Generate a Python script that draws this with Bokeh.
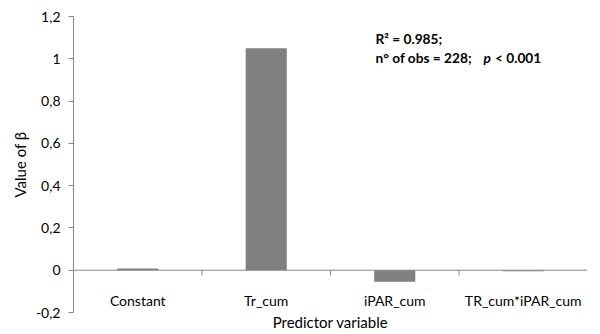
from bokeh.plotting import figure
from bokeh.models import Range1d, FixedTicker, Span, Label
from bokeh.embed import file_html
from bokeh.resources import INLINE

categories = ["Constant", "Tr_cum", "iPAR_cum", "TR_cum*iPAR_cum"]
beta = [0.008, 1.05, -0.055, -0.005]
y_ticks = [-0.2, 0, 0.2, 0.4, 0.6, 0.8, 1, 1.2]
y_tick_labels = ["-0,2", "0", "0,2", "0,4", "0,6", "0,8", "1", "1,2"]
note_line1 = "R² = 0.985;"
note_line2a = "n° of obs = 228;"
note_line2b = "p"
note_line2c = "< 0.001"

FONT = "Lato"
AX = "#868686"
TXT = "#000000"

n = len(categories)
xs = [i + 0.5 for i in range(n)]
bounds = list(range(1, n))

p = figure(width=600, height=334, output_backend="svg", toolbar_location=None,
           x_range=Range1d(0, n), y_range=Range1d(-0.2, 1.2),
           min_border_left=73, min_border_right=13, min_border_top=16, min_border_bottom=22)
p.outline_line_color = None
p.grid.grid_line_color = None
p.background_fill_color = "white"

p.vbar(x=xs, top=beta, bottom=0, width=0.32, color="#808080", line_color=None)

p.add_layout(Span(location=0, dimension="width", line_color=AX, line_width=1))
p.segment(x0=bounds, x1=bounds, y0=[0]*len(bounds), y1=[-0.025]*len(bounds), line_color=AX, line_width=1)

ya = p.yaxis[0]
ya.ticker = FixedTicker(ticks=y_ticks)
ya.major_label_overrides = {t: l for t, l in zip(y_ticks, y_tick_labels)}
ya.minor_tick_line_color = None
ya.major_tick_in = 0
ya.major_tick_out = 5
ya.axis_line_color = AX
ya.major_tick_line_color = AX
ya.major_label_standoff = 8
ya.major_label_text_font = FONT
ya.major_label_text_font_size = "14px"
ya.major_label_text_color = TXT
ya.axis_label = "Value of β"
ya.axis_label_text_font = FONT
ya.axis_label_text_font_size = "15px"
ya.axis_label_text_font_style = "normal"
ya.axis_label_text_color = TXT
ya.axis_label_standoff = 4

xa = p.xaxis[0]
xa.ticker = FixedTicker(ticks=xs)
xa.major_label_overrides = {x: c for x, c in zip(xs, categories)}
xa.axis_line_color = None
xa.major_tick_line_color = None
xa.minor_tick_line_color = None
xa.major_label_standoff = -27
xa.major_label_text_font = FONT
xa.major_label_text_font_size = "14px"
xa.major_label_text_color = TXT
xa.axis_label = "Predictor variable"
xa.axis_label_text_font = FONT
xa.axis_label_text_font_size = "15px"
xa.axis_label_text_font_style = "normal"
xa.axis_label_text_color = TXT
xa.axis_label_standoff = 1

def note(x, y, text, style="bold"):
    p.add_layout(Label(x=x, y=y, text=text, text_font=FONT, text_font_size="13.7px",
                       text_font_style=style, text_baseline="middle", text_color=TXT))

note(2.35, 1.094, note_line1)
note(2.35, 1.005, note_line2a)
note(3.19, 1.005, note_line2b, "bold italic")
note(3.28, 1.005, note_line2c)

open("out.html", "w").write(file_html(p, INLINE))
